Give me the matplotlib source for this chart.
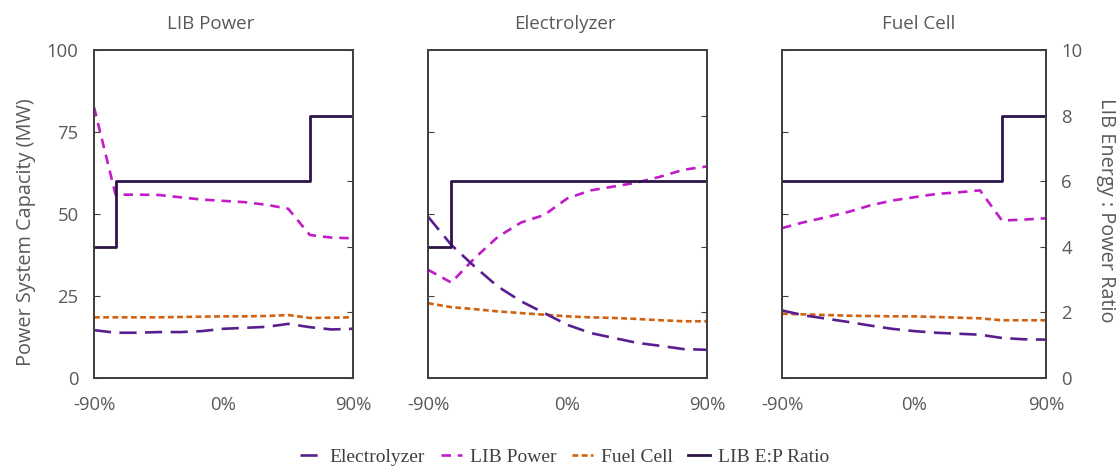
import matplotlib
matplotlib.use("Agg")
import matplotlib.pyplot as plt
from matplotlib.lines import Line2D

plt.rcParams['font.family'] = ['Open Sans', 'DejaVu Sans']

# x: sensitivity of each component cost (%)
x_pct = [-90, -75, -60, -45, -30, -15, 0, 15, 30, 45, 60, 75, 90]
panel_titles = ["LIB Power", "Electrolyzer", "Fuel Cell"]

# Panel 1: LIB Power sensitivity
p1_electrolyzer = [14.6, 13.8, 13.8, 14.0, 14.0, 14.3, 15.0, 15.3, 15.6, 16.5, 15.5, 14.8, 15.0]
p1_lib_power    = [82.6, 55.9, 55.9, 55.8, 55.1, 54.4, 54.0, 53.6, 52.8, 51.6, 43.6, 42.8, 42.6]
p1_fuel_cell    = [18.5, 18.5, 18.5, 18.5, 18.6, 18.7, 18.8, 18.8, 18.9, 19.2, 18.3, 18.4, 18.5]
p1_ep_ratio     = [4, 6, 6, 6, 6, 6, 6, 6, 6, 6, 8, 8, 8]

# Panel 2: Electrolyzer sensitivity
p2_electrolyzer = [49.2, 40.6, 34.0, 27.9, 23.4, 19.8, 16.2, 13.7, 12.2, 10.7, 9.8, 8.8, 8.6]
p2_lib_power    = [33.0, 29.1, 36.5, 43.0, 47.4, 49.7, 54.8, 57.2, 58.4, 59.6, 61.4, 63.5, 64.5]
p2_fuel_cell    = [22.8, 21.6, 21.0, 20.3, 19.8, 19.3, 18.8, 18.5, 18.3, 18.0, 17.6, 17.3, 17.3]
p2_ep_ratio     = [4, 6, 6, 6, 6, 6, 6, 6, 6, 6, 6, 6, 6]

# Panel 3: Fuel Cell sensitivity
p3_electrolyzer = [20.6, 19.1, 18.1, 17.1, 16.0, 15.0, 14.3, 13.8, 13.5, 13.2, 12.2, 11.8, 11.7]
p3_lib_power    = [45.7, 47.5, 49.0, 50.6, 52.6, 54.1, 55.1, 56.1, 56.6, 57.2, 48.0, 48.3, 48.7]
p3_fuel_cell    = [19.6, 19.4, 19.2, 19.0, 18.9, 18.8, 18.8, 18.6, 18.4, 18.2, 17.6, 17.6, 17.6]
p3_ep_ratio     = [6, 6, 6, 6, 6, 6, 6, 6, 6, 6, 8, 8, 8]

panels = [
    (p1_electrolyzer, p1_lib_power, p1_fuel_cell, p1_ep_ratio),
    (p2_electrolyzer, p2_lib_power, p2_fuel_cell, p2_ep_ratio),
    (p3_electrolyzer, p3_lib_power, p3_fuel_cell, p3_ep_ratio),
]

left_ticks = [0, 25, 50, 75, 100]
right_ticks = [0, 2, 4, 6, 8, 10]
x_ticks = [-90, 0, 90]
x_ticklabels = ["-90%", "0%", "90%"]

C_ELEC = "#5a1f8e"
C_LIB = "#c21bc8"
C_FC = "#d2610f"
C_EP = "#2c1448"
TXT = "#595959"
SPINE = "#404040"

fig = plt.figure(figsize=(11.18, 4.66), dpi=100)
W, H = 1118, 466
boxes = [(94, 353), (428, 707), (782, 1046)]
title_x = [0.452, 0.49, 0.519]
top, bot = 50, 378

for i, ((l, r), (el, lp, fc, ep)) in enumerate(zip(boxes, panels)):
    ax = fig.add_axes([l / W, 1 - bot / H, (r - l) / W, (bot - top) / H])
    ax2 = ax.twinx()
    ax.plot(x_pct, lp, color=C_LIB, lw=1.9, dashes=(3.6, 2.6))
    ax.plot(x_pct, fc, color=C_FC, lw=1.9, dashes=(2.2, 1.3))
    ax.plot(x_pct, el, color=C_ELEC, lw=1.9, dashes=(6.5, 3.2))
    ax2.plot(x_pct, ep, color=C_EP, lw=2.0, drawstyle="steps-post")
    ax.set_xlim(-90, 90)
    ax.set_ylim(0, 100)
    ax2.set_ylim(0, 10)
    ax.set_yticks(left_ticks)
    ax2.set_yticks(right_ticks)
    ax.set_xticks(x_ticks)
    ax.set_xticklabels(x_ticklabels)
    ax.tick_params(axis='x', length=0, pad=13, labelsize=13.3, colors=TXT)
    ax.tick_params(axis='y', direction='in', length=4, color=SPINE,
                   labelsize=13.3, labelcolor=TXT, pad=11)
    ax2.tick_params(axis='y', direction='in', length=4, color=SPINE,
                    labelsize=13.3, labelcolor=TXT, pad=11)
    if i != 0:
        ax.set_yticklabels([])
    if i != 2:
        ax2.set_yticklabels([])
    for a in (ax, ax2):
        for s in a.spines.values():
            s.set_color(SPINE)
            s.set_linewidth(1.3)
    t = ax.set_title(panel_titles[i], fontsize=13.5, color=TXT, pad=15)
    t.set_x(title_x[i])
    if i == 0:
        ax.set_ylabel("Power System Capacity (MW)", fontsize=14.3, color=TXT, labelpad=8)
        ax.yaxis.label.set_y(0.445)
    if i == 2:
        ax2.set_ylabel("LIB Energy : Power Ratio", fontsize=14.3, color=TXT,
                       rotation=270, labelpad=24)
        ax2.yaxis.label.set_y(0.51)

handles = [
    Line2D([], [], color=C_ELEC, lw=1.9, dashes=(6.5, 3.2)),
    Line2D([], [], color=C_LIB, lw=1.9, dashes=(3.6, 2.6)),
    Line2D([], [], color=C_FC, lw=1.9, dashes=(2.2, 1.3)),
    Line2D([], [], color=C_EP, lw=2.0),
]
labels = ["Electrolyzer", "LIB Power", "Fuel Cell", "LIB E:P Ratio"]
fig.legend(handles, labels, loc="center", bbox_to_anchor=(0.505, 1 - 457 / H),
           ncol=4, frameon=False, handlelength=1.1, columnspacing=0.8,
           handletextpad=0.4, prop={'family': 'Liberation Serif', 'size': 14},
           labelcolor="#404040")

fig.savefig("out.png", dpi=100)
